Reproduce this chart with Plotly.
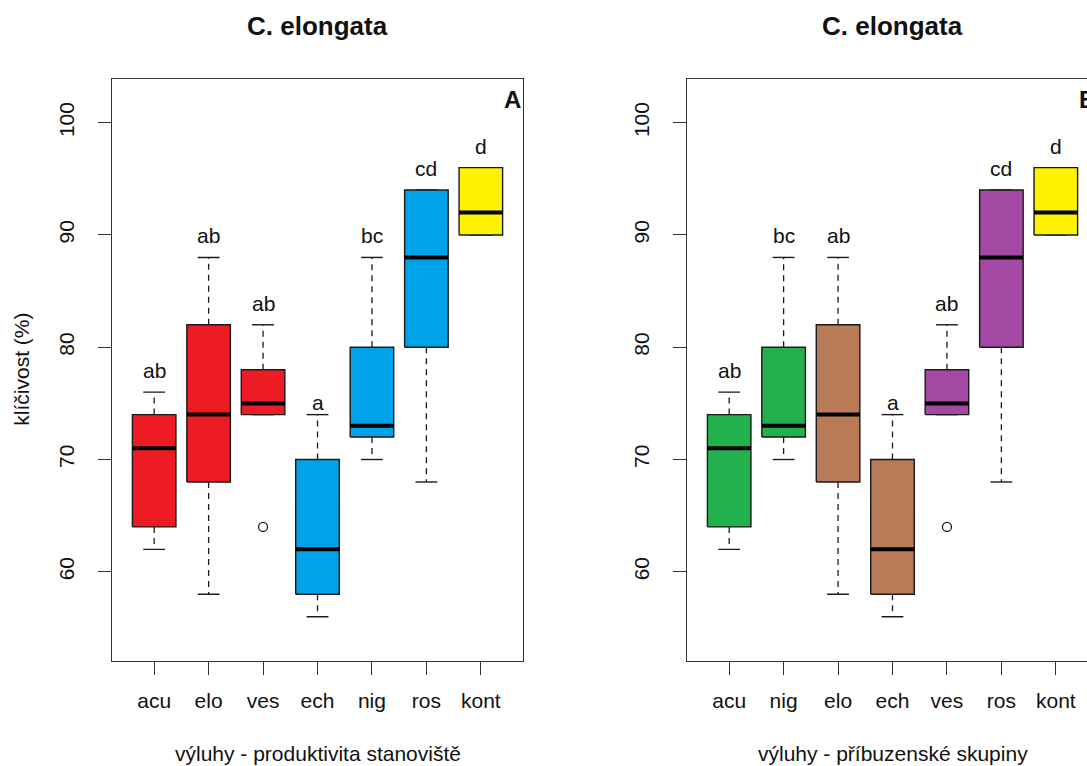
import plotly.graph_objects as go

# ---------------- data ----------------
groups = ["acu", "elo", "ves", "ech", "nig", "ros", "kont"]
whisker_low = [62, 58, 74, 56, 70, 68, 90]
quart_1 = [64, 68, 74, 58, 72, 80, 90]
medians = [71, 74, 75, 62, 73, 88, 92]
quart_3 = [74, 82, 78, 70, 80, 94, 96]
whisker_high = [76, 88, 82, 74, 88, 94, 96]
outlier_groups = ["ves"]
outlier_values = [64]
letters = ["ab", "ab", "ab", "a", "bc", "cd", "d"]
letter_y = [78, 90, 84, 75.2, 90, 96, 98]

order_A = ["acu", "elo", "ves", "ech", "nig", "ros", "kont"]
order_B = ["acu", "nig", "elo", "ech", "ves", "ros", "kont"]

RED, BLUE, YELLOW = "#ED1C24", "#00A2E8", "#FFF200"
GREEN, BROWN, PURPLE = "#22B14C", "#B97A57", "#A349A4"
colors_A = {"acu": RED, "elo": RED, "ves": RED, "ech": BLUE,
            "nig": BLUE, "ros": BLUE, "kont": YELLOW}
colors_B = {"acu": GREEN, "nig": GREEN, "elo": BROWN, "ech": BROWN,
            "ves": PURPLE, "ros": PURPLE, "kont": YELLOW}

y_ticks = [60, 70, 80, 90, 100]
title_text = "C. elongata"
xlab_A = "výluhy - produktivita stanoviště"
xlab_B = "výluhy - příbuzenské skupiny"
ylab = "klíčivost (%)"

# ---------------- layout geometry (pixels) ----------------
W, H = 1087, 766
FONT = "Liberation Sans, Arial, sans-serif"
TXT = "#111111"
AX = "#333333"
plot_top, plot_bot = 78.7, 660.7
A_left, A_right = 111.7, 523.3
B_left = 686.7
px_per_unit = (A_right - A_left) / 7.56
B_right = B_left + (A_right - A_left)
x_lo = 0.22
y_range = [52.08, 103.92]

def fx(px):
    return px / W

def fy(py):
    return 1 - py / H

HW = 0.4   # half box width
CW = 0.2   # half staple width

fig = go.Figure()

def add_panel(order, colors, xa, ya):
    for i, g in enumerate(order):
        k = groups.index(g)
        pos = i + 1
        lo, a, m, b, hi = whisker_low[k], quart_1[k], medians[k], quart_3[k], whisker_high[k]
        # whiskers (dashed)
        fig.add_trace(go.Scatter(
            x=[pos, pos, None, pos, pos], y=[b, hi, None, a, lo],
            mode="lines", line=dict(color="#1a1a1a", width=1.3, dash="6px,5px"),
            xaxis=xa, yaxis=ya, hoverinfo="skip", showlegend=False))
        # staples
        fig.add_trace(go.Scatter(
            x=[pos - CW, pos + CW, None, pos - CW, pos + CW], y=[hi, hi, None, lo, lo],
            mode="lines", line=dict(color="#1a1a1a", width=1.4),
            xaxis=xa, yaxis=ya, hoverinfo="skip", showlegend=False))
        # box
        fig.add_trace(go.Scatter(
            x=[pos - HW, pos + HW, pos + HW, pos - HW, pos - HW], y=[a, a, b, b, a],
            mode="lines", fill="toself", fillcolor=colors[g],
            line=dict(color="#1a1a1a", width=1.4),
            xaxis=xa, yaxis=ya, hoverinfo="skip", showlegend=False))
        # median
        fig.add_trace(go.Scatter(
            x=[pos - HW, pos + HW], y=[m, m],
            mode="lines", line=dict(color="#000000", width=4),
            xaxis=xa, yaxis=ya, hoverinfo="skip", showlegend=False))
        # outliers
        ov = [v for gg, v in zip(outlier_groups, outlier_values) if gg == g]
        if ov:
            fig.add_trace(go.Scatter(
                x=[pos] * len(ov), y=ov, mode="markers",
                marker=dict(symbol="circle-open", size=9, color="#1a1a1a",
                            line=dict(width=1.3)),
                xaxis=xa, yaxis=ya, hoverinfo="skip", showlegend=False))
        # significance letters
        fig.add_annotation(x=pos, y=letter_y[k], xref=xa, yref=ya, text=letters[k],
                           showarrow=False, yanchor="middle", yshift=-1,
                           font=dict(family=FONT, size=21, color=TXT))

add_panel(order_A, colors_A, "x", "y")
add_panel(order_B, colors_B, "x2", "y2")

axis_common = dict(showgrid=False, zeroline=False, showline=True, linecolor=AX,
                   linewidth=1.3, ticks="outside", ticklen=13, tickwidth=1.3,
                   tickcolor=AX, tickfont=dict(family=FONT, size=21, color=TXT),
                   fixedrange=True)

ydom = [fy(plot_bot), fy(plot_top)]
fig.update_layout(
    width=W, height=H, autosize=False,
    margin=dict(l=0, r=0, t=0, b=0, pad=0),
    paper_bgcolor="white", plot_bgcolor="white",
    showlegend=False,
    xaxis=dict(domain=[fx(A_left), fx(A_right)], range=[x_lo, x_lo + 7.56],
               tickvals=list(range(1, len(order_A) + 1)), ticktext=order_A,
               mirror=True, anchor="y", ticklabelstandoff=8, **axis_common),
    yaxis=dict(domain=ydom, range=y_range, tickvals=y_ticks, tickangle=-90,
               mirror=True, anchor="x", ticklabelstandoff=15, **axis_common),
    xaxis2=dict(domain=[fx(B_left), 1.0], range=[x_lo, x_lo + (W - B_left) / px_per_unit],
                tickvals=list(range(1, len(order_B) + 1)), ticktext=order_B,
                mirror=True, anchor="y2", ticklabelstandoff=8, **axis_common),
    yaxis2=dict(domain=ydom, range=y_range, tickvals=y_ticks, tickangle=-90,
                mirror=False, anchor="x2", ticklabelstandoff=15, **axis_common),
)

def paper_text(text, xpx, ypx, size, bold=False, angle=0, xanchor="center"):
    fig.add_annotation(x=fx(xpx), y=fy(ypx), xref="paper", yref="paper",
                       text=f"<b>{text}</b>" if bold else text, showarrow=False,
                       xanchor=xanchor, yanchor="middle", textangle=angle,
                       font=dict(family=FONT, size=size, color=TXT))

A_mid = (A_left + A_right) / 2
B_mid = (B_left + B_right) / 2
paper_text(title_text, A_mid, 26, 26, bold=True)
paper_text(title_text, B_mid, 26, 26, bold=True)
paper_text(xlab_A, A_mid, 753, 21)
paper_text(xlab_B, B_mid, 753, 21)
paper_text(ylab, 22, (plot_top + plot_bot) / 2, 21, angle=-90)
paper_text("A", A_right - 21.6, 99, 24, bold=True, xanchor="left")
paper_text("B", B_right - 21.6, 99, 24, bold=True, xanchor="left")

fig.write_html("out.html")
